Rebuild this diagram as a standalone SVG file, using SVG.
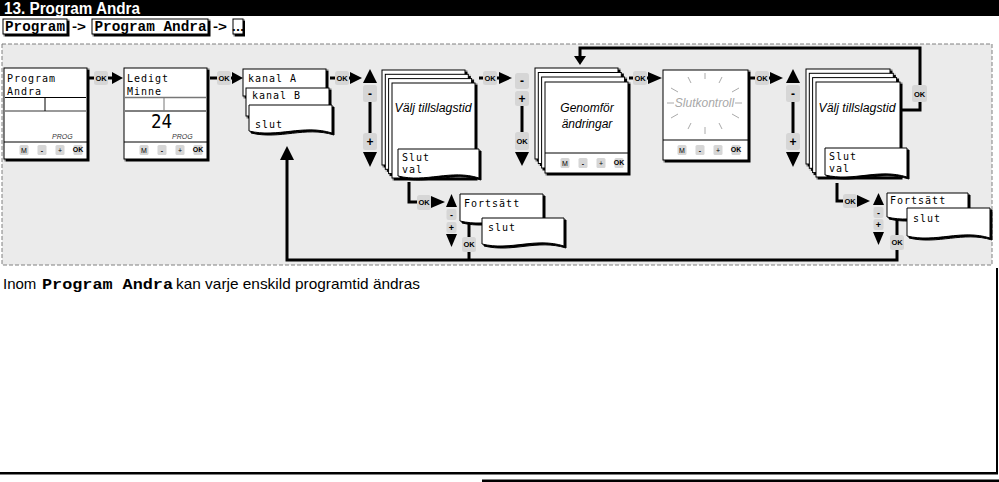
<svg xmlns="http://www.w3.org/2000/svg" width="999" height="482" viewBox="0 0 999 482">
<defs>
<style>
.scr{fill:#fff;stroke:#000;stroke-width:1}
.bdg{fill:#d6d6d6}
.bok{font-family:"Liberation Sans",Arial,sans-serif;font-weight:bold;font-size:7.5px;fill:#000;text-anchor:middle}
.bpm{font-family:"Liberation Sans",Arial,sans-serif;font-weight:bold;font-size:12px;fill:#000;text-anchor:middle}
.bps{font-family:"Liberation Sans",Arial,sans-serif;font-weight:bold;font-size:9px;fill:#000;text-anchor:middle}
.lcd{font-family:"DejaVu Sans Mono",monospace;font-size:10px;letter-spacing:1px;fill:#000}
.lbl{font-family:"Liberation Sans",Arial,sans-serif;font-style:italic;font-size:12px;fill:#000;text-anchor:middle}
.cn{fill:none;stroke:#000;stroke-width:3}
.ah{fill:#000}
.prog{font-family:"Liberation Sans",Arial,sans-serif;font-style:italic;font-size:7px;fill:#333}
.sm{font-family:"Liberation Sans",Arial,sans-serif;font-size:7px;text-anchor:middle;fill:#000}
.ray{stroke:#aaa;stroke-width:1}
.hd{font-family:"Liberation Mono","Courier New",monospace;font-weight:bold;font-size:14.5px;fill:#000}
.ar{font-family:"Liberation Sans",Arial,sans-serif;font-weight:bold;font-size:13px;fill:#000}
</style>
<filter id="ds" x="-10%" y="-10%" width="125%" height="125%">
<feOffset in="SourceAlpha" dx="1.5" dy="1.5" result="o"/>
<feMerge><feMergeNode in="o"/><feMergeNode in="SourceGraphic"/></feMerge>
</filter>
<g id="btns">
<rect x="-4.5" y="-5" width="9" height="10" rx="1.5" class="bdg"/>
<text x="0" y="2.5" class="sm" fill="#444">M</text>
<rect x="13.5" y="-5" width="9" height="10" rx="1.5" class="bdg"/>
<text x="18" y="2.5" class="sm" font-weight="bold">-</text>
<rect x="31.5" y="-5" width="9" height="10" rx="1.5" class="bdg"/>
<text x="36" y="2.5" class="sm">+</text>
<rect x="49.5" y="-5" width="9" height="10" rx="1.5" class="bdg"/>
<text x="54" y="2.3" class="sm" font-weight="bold" font-size="6px">OK</text>
</g>
</defs>

<!-- header -->
<rect x="0" y="0" width="999" height="16" fill="#000"/>
<text x="4" y="13.5" font-family="Liberation Sans, Arial, sans-serif" font-weight="bold" font-size="16" fill="#fff" textLength="136" lengthAdjust="spacingAndGlyphs">13. Program Andra</text>
<g id="breadcrumb">
<rect x="3" y="19" width="64" height="15" class="scr" filter="url(#ds)"/>
<text x="5" y="30.5" class="hd" textLength="60" lengthAdjust="spacingAndGlyphs">Program</text>
<text x="72" y="30.5" class="ar" textLength="14" lengthAdjust="spacingAndGlyphs">-&gt;</text>
<rect x="92" y="19" width="116" height="15" class="scr" filter="url(#ds)"/>
<text x="94.5" y="30.5" class="hd" textLength="112" lengthAdjust="spacingAndGlyphs">Program Andra</text>
<text x="213" y="30.5" class="ar" textLength="14" lengthAdjust="spacingAndGlyphs">-&gt;</text>
<rect x="233" y="19" width="10" height="15" class="scr" filter="url(#ds)"/>
<text x="238" y="31" class="ar" text-anchor="middle" font-size="10">…</text>
</g>

<!-- frame -->
<rect x="2" y="44" width="990" height="221" fill="#ebebeb" stroke="#808080" stroke-width="1" stroke-dasharray="4 2"/>

<!-- connectors -->
<g id="connectors">
<path class="cn" d="M89 78 H113"/>
<rect x="94" y="71" width="14" height="14" rx="2.5" class="bdg"/><text x="101" y="80.8" class="bok">OK</text>
<polygon class="ah" points="112,72 123,78 112,84"/>
<path class="cn" d="M210 78 H233"/>
<rect x="217" y="71" width="14" height="14" rx="2.5" class="bdg"/><text x="224" y="80.8" class="bok">OK</text>
<polygon class="ah" points="232,72 243,78 232,84"/>
<path class="cn" d="M330 78 H351"/>
<rect x="335" y="71" width="14" height="14" rx="2.5" class="bdg"/><text x="342" y="80.8" class="bok">OK</text>
<polygon class="ah" points="350,72 362,78 350,84"/>
<polygon class="ah" points="363,83 370,69 377,83"/>
<path class="cn" d="M370 100 V135"/>
<rect x="363" y="85" width="14" height="17" rx="2.5" class="bdg"/><text x="370" y="97.5" class="bpm">-</text>
<rect x="363" y="133" width="14" height="17" rx="2.5" class="bdg"/><text x="370" y="145.5" class="bpm">+</text>
<polygon class="ah" points="363,152 377,152 370,167"/>
<path class="cn" d="M479 78 H501"/>
<rect x="483" y="71" width="14" height="14" rx="2.5" class="bdg"/><text x="490" y="80.8" class="bok">OK</text>
<polygon class="ah" points="499,72 512,78 499,84"/>
<path class="cn" d="M522 104 V134"/>
<rect x="515" y="73" width="14" height="16" rx="2.5" class="bdg"/><text x="522" y="85" class="bpm">-</text>
<rect x="515" y="91" width="14" height="15" rx="2.5" class="bdg"/><text x="522" y="102.5" class="bpm">+</text>
<rect x="515" y="132" width="14" height="18" rx="2.5" class="bdg"/><text x="522" y="144" class="bok">OK</text>
<polygon class="ah" points="515,152 529,152 522,166"/>
<path class="cn" d="M629 78 H649"/>
<rect x="633" y="71" width="14" height="14" rx="2.5" class="bdg"/><text x="640" y="80.8" class="bok">OK</text>
<polygon class="ah" points="648,72 662,78 648,84"/>
<path class="cn" d="M750 78 H771"/>
<rect x="755" y="71" width="14" height="14" rx="2.5" class="bdg"/><text x="762" y="80.8" class="bok">OK</text>
<polygon class="ah" points="770,72 783,78 770,84"/>
<polygon class="ah" points="786,83 793,69 800,83"/>
<path class="cn" d="M793 100 V135"/>
<rect x="786" y="85" width="14" height="17" rx="2.5" class="bdg"/><text x="793" y="97.5" class="bpm">-</text>
<rect x="786" y="133" width="14" height="17" rx="2.5" class="bdg"/><text x="793" y="145.5" class="bpm">+</text>
<polygon class="ah" points="786,152 800,152 793,167"/>
<path class="cn" d="M900 110 H920 V48 H580 V57"/>
<polygon class="ah" points="574,56 586,56 580,65"/>
<rect x="912" y="85" width="15" height="17" rx="2.5" class="bdg"/><text x="919.5" y="96.5" class="bok">OK</text>
<path class="cn" d="M409 182 V202 H418"/>
<rect x="417" y="195" width="14" height="15" rx="2.5" class="bdg"/><text x="424" y="205.3" class="bok">OK</text>
<polygon class="ah" points="431,196 445,202 431,208"/>
<polygon class="ah" points="446,207 451.5,194 457,207"/>
<rect x="446.5" y="209" width="10" height="11" rx="2" class="bdg"/><text x="451.5" y="217.5" class="bps">-</text>
<rect x="446.5" y="222" width="10" height="11" rx="2" class="bdg"/><text x="451.5" y="230.5" class="bps">+</text>
<polygon class="ah" points="446,234 457,234 451.5,247"/>
<path class="cn" d="M469 222 V260"/>
<path class="cn" d="M837 183 V201 H844"/>
<rect x="843" y="194" width="14" height="14" rx="2.5" class="bdg"/><text x="850" y="203.8" class="bok">OK</text>
<polygon class="ah" points="857,195 870,201 857,207"/>
<polygon class="ah" points="873,205 878.5,193 884,205"/>
<rect x="873.5" y="207" width="10" height="11" rx="2" class="bdg"/><text x="878.5" y="215.5" class="bps">-</text>
<rect x="873.5" y="219" width="10" height="11" rx="2" class="bdg"/><text x="878.5" y="227.5" class="bps">+</text>
<polygon class="ah" points="873,232 884,232 878.5,245"/>
<path class="cn" d="M897 219 V260 H287 V158"/>
<polygon class="ah" points="280,160 287,146 294,160"/>
<rect x="462" y="237" width="14" height="15" rx="2.5" class="bdg"/><text x="469" y="247.3" class="bok">OK</text>
<rect x="890" y="235" width="14" height="15" rx="2.5" class="bdg"/><text x="897" y="245.3" class="bok">OK</text>
</g>

<g id="disp-program-andra">
<rect x="4" y="68" width="83" height="91" class="scr" filter="url(#ds)"/>
<text x="7" y="82" class="lcd">Program</text>
<text x="7" y="94.5" class="lcd">Andra</text>
<line x1="5" y1="97.5" x2="86" y2="97.5" stroke="#000"/>
<line x1="5" y1="111" x2="86" y2="111" stroke="#777" stroke-width="1.5"/>
<line x1="45" y1="97.5" x2="45" y2="111" stroke="#000"/>
<text x="52" y="139" class="prog">PROG</text>
<line x1="4" y1="142" x2="87" y2="142" stroke="#000"/>
<use href="#btns" x="24" y="150"/>
</g>

<g id="disp-ledigt-minne">
<rect x="124" y="68" width="83" height="91" class="scr" filter="url(#ds)"/>
<text x="127" y="82" class="lcd">Ledigt</text>
<text x="127" y="94.5" class="lcd">Minne</text>
<line x1="125" y1="97.5" x2="206" y2="97.5" stroke="#777" stroke-width="1.5"/>
<line x1="125" y1="111" x2="206" y2="111" stroke="#000"/>
<line x1="164" y1="97.5" x2="164" y2="111" stroke="#777"/>
<text x="151" y="128" font-family="DejaVu Sans Mono, monospace" font-size="20" textLength="21" lengthAdjust="spacingAndGlyphs">24</text>
<text x="172" y="139" class="prog">PROG</text>
<line x1="124" y1="142" x2="207" y2="142" stroke="#000"/>
<use href="#btns" x="144" y="150"/>
</g>

<g id="kanal-list">
<rect x="243" y="69" width="83" height="27" class="scr" filter="url(#ds)"/>
<text x="248" y="82" class="lcd">kanal A</text>
<rect x="246" y="88" width="83" height="28" class="scr" filter="url(#ds)"/>
<text x="252" y="99" class="lcd">kanal B</text>
<path d="M249 105 H332 V133 C303 124 278 138 249 131 Z" class="scr" filter="url(#ds)"/>
<text x="255" y="128" class="lcd">slut</text>
</g>

<g id="valj-1">
<rect x="382" y="70" width="83" height="95" class="scr" filter="url(#ds)"/>
<rect x="385.3" y="74.3" width="83" height="95" class="scr" filter="url(#ds)"/>
<rect x="388.6" y="78.6" width="83" height="95" class="scr" filter="url(#ds)"/>
<rect x="392" y="83" width="83" height="95" class="scr" filter="url(#ds)"/>
<text x="433" y="112" class="lbl" textLength="77" lengthAdjust="spacingAndGlyphs">Välj tillslagstid</text>
<path d="M398 149 H479 V178 C451 169 426 183 398 176 Z" class="scr" filter="url(#ds)"/>
<text x="402" y="161" class="lcd">Slut</text>
<text x="402" y="173" class="lcd">val</text>
</g>

<g id="genomfor">
<rect x="535" y="68" width="83" height="91" class="scr" filter="url(#ds)"/>
<rect x="538.3" y="72.5" width="83" height="91" class="scr" filter="url(#ds)"/>
<rect x="541.6" y="77" width="83" height="91" class="scr" filter="url(#ds)"/>
<rect x="545" y="82" width="83" height="91" class="scr" filter="url(#ds)"/>
<text x="587" y="112" class="lbl" font-size="11.5">Genomför</text>
<text x="587" y="128" class="lbl" font-size="11.5">ändringar</text>
<line x1="545" y1="153" x2="628" y2="153" stroke="#000"/>
<use href="#btns" x="565" y="163"/>
</g>

<g id="slutkontroll">
<rect x="663" y="70" width="85" height="90" class="scr" filter="url(#ds)"/>
<line class="ray" x1="705" y1="73" x2="705" y2="79"/>
<line class="ray" x1="688" y1="77" x2="691" y2="83"/>
<line class="ray" x1="722" y1="77" x2="719" y2="83"/>
<line class="ray" x1="671" y1="88" x2="678" y2="92"/>
<line class="ray" x1="739" y1="88" x2="732" y2="92"/>
<line class="ray" x1="667" y1="103" x2="674" y2="103"/>
<line class="ray" x1="735" y1="103" x2="742" y2="103"/>
<line class="ray" x1="671" y1="118" x2="678" y2="114"/>
<line class="ray" x1="739" y1="118" x2="732" y2="114"/>
<line class="ray" x1="688" y1="129" x2="691" y2="123"/>
<line class="ray" x1="722" y1="129" x2="719" y2="123"/>
<line class="ray" x1="705" y1="127" x2="705" y2="134"/>
<text x="704.5" y="107" class="lbl" font-size="11" style="fill:#a8a8a8">Slutkontroll</text>
<line x1="663" y1="140" x2="748" y2="140" stroke="#000"/>
<use href="#btns" x="682" y="150"/>
</g>

<g id="valj-2">
<rect x="806" y="69" width="84" height="95" class="scr" filter="url(#ds)"/>
<rect x="809.3" y="73.3" width="84" height="95" class="scr" filter="url(#ds)"/>
<rect x="812.6" y="77.6" width="84" height="95" class="scr" filter="url(#ds)"/>
<rect x="816" y="82" width="84" height="95" class="scr" filter="url(#ds)"/>
<text x="857" y="112" class="lbl" textLength="77" lengthAdjust="spacingAndGlyphs">Välj tillslagstid</text>
<path d="M825 148 H907 V177 C878 168 854 182 825 175 Z" class="scr" filter="url(#ds)"/>
<text x="829" y="160" class="lcd">Slut</text>
<text x="829" y="172" class="lcd">val</text>
</g>

<g id="fortsatt-1">
<path d="M460 194 H543 V223 C514 214 489 228 460 221 Z" class="scr" filter="url(#ds)"/>
<text x="464" y="207" class="lcd">Fortsätt</text>
<path d="M482 218 H564 V246 C535 237 511 251 482 244 Z" class="scr" filter="url(#ds)"/>
<text x="488" y="231" class="lcd">slut</text>
</g>

<g id="fortsatt-2">
<path d="M887 193 H968 V219 C940 210 915 224 887 217 Z" class="scr" filter="url(#ds)"/>
<text x="890" y="204" class="lcd">Fortsätt</text>
<path d="M907 208 H990 V238 C961 229 936 243 907 236 Z" class="scr" filter="url(#ds)"/>
<text x="913" y="222" class="lcd">slut</text>
</g>

<text x="3" y="289" font-family="Liberation Sans, Arial, sans-serif" font-size="15">Inom</text>
<text x="42" y="289" class="hd" font-size="16" textLength="131" lengthAdjust="spacingAndGlyphs">Program Andra</text>
<text x="176" y="289" font-family="Liberation Sans, Arial, sans-serif" font-size="15" textLength="244" lengthAdjust="spacingAndGlyphs">kan varje enskild programtid ändras</text>

<line x1="997" y1="268" x2="997" y2="474" stroke="#000" stroke-width="2"/>
<rect x="0" y="472" width="998" height="2.5" fill="#000"/>
<rect x="482" y="479.5" width="517" height="2.5" fill="#000"/>
</svg>
